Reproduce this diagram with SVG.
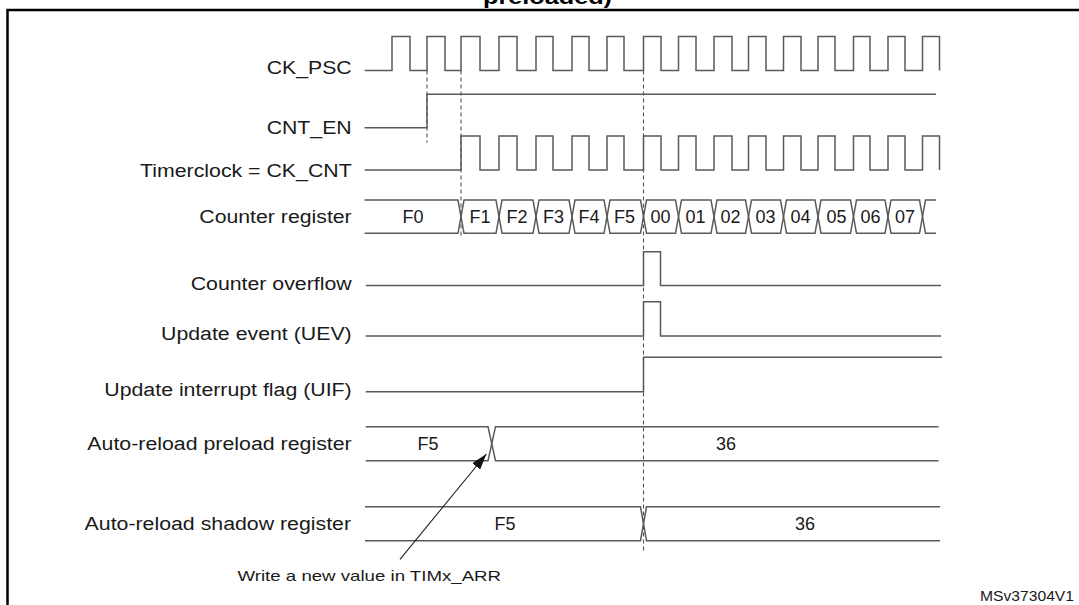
<svg xmlns="http://www.w3.org/2000/svg" width="1079" height="605" viewBox="0 0 1079 605">
<style>
  .bg { fill: #ffffff; }
  .frame { stroke: #000000; stroke-width: 2.5; fill: none; }
  .wave { stroke: #5a5a5a; stroke-width: 1.5; fill: none; stroke-linejoin: miter; }
  .dash { stroke: #555555; stroke-width: 1.1; stroke-dasharray: 4 3; fill: none; }
  .lbl { font-family: "Liberation Sans", Arial, sans-serif; font-size: 18px; fill: #1a1a1a; }
  .val { font-family: "Liberation Sans", Arial, sans-serif; font-size: 18px; fill: #1a1a1a; text-anchor: middle; }
  .note { font-family: "Liberation Sans", Arial, sans-serif; font-size: 15px; fill: #1a1a1a; }
  .title { font-family: "Liberation Sans", Arial, sans-serif; font-size: 20px; font-weight: bold; fill: #000000; }
  .arrow { stroke: #222222; stroke-width: 1.1; fill: none; }
</style>
<defs>
  <marker id="ah" viewBox="0 0 16 10" refX="16" refY="5" markerWidth="16" markerHeight="10" markerUnits="userSpaceOnUse" orient="auto">
    <path d="M0,0 L16,5 L0,10 Z" fill="#111111"/>
  </marker>
</defs>
<rect class="bg" x="0" y="0" width="1079" height="605"/>
<text class="title" x="483" y="4" textLength="129" lengthAdjust="spacingAndGlyphs">preloaded)</text>
<g id="frame">
  <path class="frame" d="M7.5,605 V10 H1079"/>
</g>

<g id="ck_psc">
  <text class="lbl" x="266.7" y="74" textLength="85" lengthAdjust="spacingAndGlyphs">CK_PSC</text>
  <path class="wave" d="M364.6,70.5 H392 V36.5 H410 V70.5 H427 V36.5 H445 V70.5 H461 V36.5 H480 V70.5 H499 V36.5 H517 V70.5 H536 V36.5 H553 V70.5 H572 V36.5 H589 V70.5 H607 V36.5 H624 V70.5 H643.5 V36.5 H661 V70.5 H678.5 V36.5 H696 V70.5 H714 V36.5 H732 V70.5 H748.5 V36.5 H766 V70.5 H783.5 V36.5 H801 V70.5 H818 V36.5 H835 V70.5 H853.5 V36.5 H870 V70.5 H888 V36.5 H905 V70.5 H922.5 V36.5 H939.5 V70.5"/>
</g>

<g id="cnt_en">
  <text class="lbl" x="266.7" y="133.5" textLength="85" lengthAdjust="spacingAndGlyphs">CNT_EN</text>
  <path class="wave" d="M364.6,127.7 H427 V94.3 H936"/>
</g>

<g id="ck_cnt">
  <text class="lbl" x="140" y="176.5" textLength="211.7" lengthAdjust="spacingAndGlyphs">Timerclock = CK_CNT</text>
  <path class="wave" d="M364.6,170 H461 V136 H480 V170 H499 V136 H517 V170 H536 V136 H553 V170 H572 V136 H589 V170 H607 V136 H624 V170 H643.5 V136 H661 V170 H678.5 V136 H696 V170 H714 V136 H732 V170 H748.5 V136 H766 V170 H783.5 V136 H801 V170 H818 V136 H835 V170 H853.5 V136 H870 V170 H888 V136 H905 V170 H922.5 V136 H939.5 V170"/>
</g>

<g id="counter_register">
  <text class="lbl" x="199.3" y="222.5" textLength="152.4" lengthAdjust="spacingAndGlyphs">Counter register</text>
  <path class="wave" d="M364.6,200 H458 L464,233.3 H496 L502,200 H533 L539,233.3 H569 L575,200 H604 L610,233.3 H640.5 L646.5,200 H675.5 L681.5,233.3 H711 L717,200 H745.5 L751.5,233.3 H780.5 L786.5,200 H815 L821,233.3 H850.5 L856.5,200 H885 L891,233.3 H919.5 L925.5,200 H936"/>
  <path class="wave" d="M364.6,233.3 H458 L464,200 H496 L502,233.3 H533 L539,200 H569 L575,233.3 H604 L610,200 H640.5 L646.5,233.3 H675.5 L681.5,200 H711 L717,233.3 H745.5 L751.5,200 H780.5 L786.5,233.3 H815 L821,200 H850.5 L856.5,233.3 H885 L891,200 H919.5 L925.5,233.3 H936"/>
  <text class="val" x="413" y="222.5">F0</text>
  <text class="val" x="480" y="222.5">F1</text>
  <text class="val" x="517" y="222.5">F2</text>
  <text class="val" x="553.5" y="222.5">F3</text>
  <text class="val" x="589" y="222.5">F4</text>
  <text class="val" x="624.5" y="222.5">F5</text>
  <text class="val" x="660.5" y="222.5">00</text>
  <text class="val" x="695.5" y="222.5">01</text>
  <text class="val" x="730.5" y="222.5">02</text>
  <text class="val" x="765.5" y="222.5">03</text>
  <text class="val" x="800.5" y="222.5">04</text>
  <text class="val" x="836.5" y="222.5">05</text>
  <text class="val" x="870.5" y="222.5">06</text>
  <text class="val" x="905" y="222.5">07</text>
</g>

<g id="counter_overflow">
  <text class="lbl" x="190.7" y="289.5" textLength="161" lengthAdjust="spacingAndGlyphs">Counter overflow</text>
  <path class="wave" d="M365.7,285.5 H643.5 V251.7 H660.5 V285.5 H941"/>
</g>

<g id="uev">
  <text class="lbl" x="161" y="340" textLength="190.7" lengthAdjust="spacingAndGlyphs">Update event (UEV)</text>
  <path class="wave" d="M365.7,336 H643.5 V301.7 H660.5 V336 H941"/>
</g>

<g id="uif">
  <text class="lbl" x="104.3" y="395.5" textLength="247.4" lengthAdjust="spacingAndGlyphs">Update interrupt flag (UIF)</text>
  <path class="wave" d="M365.7,391.7 H643.5 V357.3 H942"/>
</g>

<g id="preload">
  <text class="lbl" x="87.3" y="450" textLength="264.4" lengthAdjust="spacingAndGlyphs">Auto-reload preload register</text>
  <path class="wave" d="M365.7,426.7 H488 L495.5,460.7 H938.5"/>
  <path class="wave" d="M365.7,460.7 H488 L495.5,426.7 H938.5"/>
  <text class="val" x="428" y="450">F5</text>
  <text class="val" x="726" y="450">36</text>
</g>

<g id="shadow">
  <text class="lbl" x="84.6" y="530" textLength="266.4" lengthAdjust="spacingAndGlyphs">Auto-reload shadow register</text>
  <path class="wave" d="M365,506.7 H640.5 L646.5,540.7 H940"/>
  <path class="wave" d="M365,540.7 H640.5 L646.5,506.7 H940"/>
  <text class="val" x="505" y="530">F5</text>
  <text class="val" x="805" y="530">36</text>
</g>

<g id="connectors">
  <path class="dash" d="M427,70.5 V142.7"/>
  <path class="dash" d="M461,70.5 V238"/>
  <path class="dash" d="M643.5,70.5 V553"/>
  <path class="arrow" d="M400,559.3 L486.4,454" marker-end="url(#ah)"/>
</g>

<g id="annotation">
  <text class="note" x="237.5" y="580.7" textLength="263.5" lengthAdjust="spacingAndGlyphs">Write a new value in TIMx_ARR</text>
  <text class="note" x="980" y="600.7" textLength="94" lengthAdjust="spacingAndGlyphs" style="font-size:14px">MSv37304V1</text>
</g>
</svg>
